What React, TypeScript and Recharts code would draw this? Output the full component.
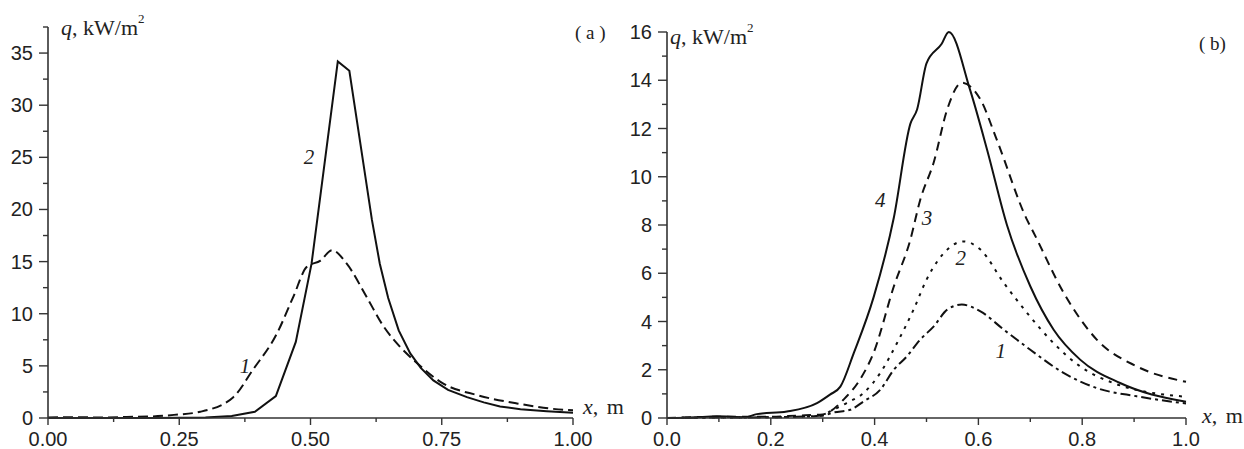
import React from "react";
import { LineChart, Line, XAxis, YAxis, ReferenceDot } from "recharts";

// ---------- Data: panel (a) ----------
const aCurve1X = [0, 0.05, 0.1, 0.15, 0.2, 0.24, 0.29, 0.353, 0.39, 0.436, 0.467, 0.493, 0.519, 0.541, 0.569, 0.607, 0.639, 0.671, 0.7, 0.753, 0.817, 0.893, 0.989, 1.0];
const aCurve1Q = [0.05, 0.08, 0.05, 0.1, 0.15, 0.3, 0.6, 2.0, 4.6, 8.1, 11.6, 14.5, 15.1, 16.1, 14.8, 11.6, 8.8, 6.8, 5.4, 3.3, 2.2, 1.4, 0.77, 0.75];
const aCurve2X = [0, 0.1, 0.2, 0.3, 0.35, 0.394, 0.434, 0.472, 0.502, 0.552, 0.574, 0.617, 0.632, 0.648, 0.668, 0.69, 0.71, 0.734, 0.762, 0.798, 0.83, 0.861, 0.9, 0.95, 1.0];
const aCurve2Q = [0, 0, 0, 0.05, 0.2, 0.6, 2.1, 7.3, 14.8, 34.2, 33.3, 19, 14.8, 11.5, 8.4, 6.2, 4.8, 3.6, 2.7, 2.0, 1.5, 1.1, 0.85, 0.65, 0.5];

const aXTicks = [0, 0.125, 0.25, 0.375, 0.5, 0.625, 0.75, 0.875, 1.0];
const aXMajor = [0, 0.25, 0.5, 0.75, 1.0];
const aYTicks = [0, 2.5, 5, 7.5, 10, 12.5, 15, 17.5, 20, 22.5, 25, 27.5, 30, 32.5, 35, 37.5];
const aYMajor = [0, 5, 10, 15, 20, 25, 30, 35];
const aLabels = [
  { name: "1", x: 0.375, q: 4.3 },
  { name: "2", x: 0.497, q: 24.4 },
];

// ---------- Data: panel (b) ----------
const bCurve1X = [0, 0.1, 0.2, 0.25, 0.3, 0.321, 0.353, 0.379, 0.411, 0.437, 0.462, 0.488, 0.514, 0.54, 0.568, 0.604, 0.649, 0.7, 0.764, 0.828, 0.905, 1.0];
const bCurve1Q = [0, 0.02, 0.03, 0.05, 0.1, 0.23, 0.34, 0.69, 1.17, 2.0, 2.55, 3.25, 3.8, 4.49, 4.7, 4.42, 3.66, 2.83, 1.87, 1.24, 0.9, 0.6];
const bCurve2X = [0, 0.1, 0.2, 0.25, 0.3, 0.314, 0.346, 0.379, 0.411, 0.443, 0.475, 0.5, 0.54, 0.571, 0.604, 0.649, 0.694, 0.745, 0.796, 0.86, 1.0];
const bCurve2Q = [0, 0.02, 0.03, 0.05, 0.1, 0.27, 0.62, 1.04, 1.87, 3.1, 4.49, 5.73, 6.98, 7.32, 6.98, 5.6, 4.35, 3.1, 2.14, 1.45, 0.88];
const bCurve3X = [0, 0.1, 0.2, 0.25, 0.3, 0.314, 0.34, 0.372, 0.398, 0.437, 0.469, 0.488, 0.514, 0.54, 0.568, 0.604, 0.636, 0.694, 0.706, 0.764, 0.828, 0.905, 1.0];
const bCurve3Q = [0, 0.05, 0.05, 0.1, 0.15, 0.27, 0.76, 1.6, 2.7, 5.45, 7.4, 9.05, 10.6, 12.8, 13.9, 13.2, 11.5, 8.2, 7.7, 5.2, 3.25, 2.14, 1.5];
const bCurve4X = [0, 0.05, 0.096, 0.15, 0.173, 0.231, 0.289, 0.314, 0.334, 0.36, 0.398, 0.437, 0.469, 0.482, 0.5, 0.529, 0.543, 0.584, 0.617, 0.655, 0.7, 0.745, 0.796, 0.873, 0.995, 1.0];
const bCurve4Q = [0, 0.02, 0.07, 0.03, 0.16, 0.27, 0.62, 0.97, 1.3, 2.7, 5.0, 8.3, 12.2, 12.8, 14.7, 15.5, 16.0, 13.6, 11.1, 8.0, 5.46, 3.66, 2.42, 1.45, 0.69, 0.67];

const bXTicks = [0, 0.1, 0.2, 0.3, 0.4, 0.5, 0.6, 0.7, 0.8, 0.9, 1.0];
const bXMajor = [0, 0.2, 0.4, 0.6, 0.8, 1.0];
const bYTicks = [0, 1, 2, 3, 4, 5, 6, 7, 8, 9, 10, 11, 12, 13, 14, 15, 16];
const bYMajor = [0, 2, 4, 6, 8, 10, 12, 14, 16];
const bLabels = [
  { name: "1", x: 0.643, q: 2.5 },
  { name: "2", x: 0.566, q: 6.35 },
  { name: "3", x: 0.501, q: 8.01 },
  { name: "4", x: 0.411, q: 8.76 },
];

const zip = (xs: number[], qs: number[]) => xs.map((x, i) => ({ x, q: qs[i] }));

const AXIS = "#333";
const LINE = "#111";
const SANS = "'Liberation Sans', Arial, sans-serif";
const SERIF = "'Liberation Serif', 'Times New Roman', serif";

const isIn = (v: number, arr: number[]) => arr.some((m) => Math.abs(m - v) < 1e-9);

const makeXTick = (majors: number[], digits: number) => (props: any) => {
  const { x, y, payload } = props;
  const major = isIn(payload.value, majors);
  return (
    <g>
      <line x1={x} x2={x} y1={y} y2={y + (major ? 7 : 4)} stroke={AXIS} strokeWidth={1.4} />
      {major && (
        <text x={x} y={y + 27.5} textAnchor="middle" fontFamily={SANS} fontSize={20} fill="#222">
          {payload.value.toFixed(digits)}
        </text>
      )}
    </g>
  );
};

const makeYTick = (majors: number[]) => (props: any) => {
  const { x, y, payload } = props;
  const major = isIn(payload.value, majors);
  return (
    <g>
      <line x1={x - (major ? 9 : 5)} x2={x} y1={y} y2={y} stroke={AXIS} strokeWidth={1.4} />
      {major && (
        <text x={x - 15} y={y + 7} textAnchor="end" fontFamily={SANS} fontSize={20} fill="#222">
          {String(payload.value)}
        </text>
      )}
    </g>
  );
};

const curveLabel = (name: string) => (p: any) => (
  <text x={p.cx} y={p.cy} textAnchor="middle" fontFamily={SERIF} fontStyle="italic" fontSize={21} fill="#222">
    {name}
  </text>
);

export default function App() {
  return (
    <div style={{ position: "absolute", left: 0, top: 0, width: 1244, height: 449, background: "#fff" }}>
      <div style={{ position: "absolute", left: 0, top: 0 }}>
        <LineChart width={620} height={449} margin={{ top: 27, right: 47, bottom: 0, left: 0 }}>
          <XAxis
            type="number"
            dataKey="x"
            domain={[0, 1]}
            ticks={aXTicks}
            interval={0}
            tickSize={0}
            tickMargin={0}
            tickLine={false}
            height={31}
            axisLine={{ stroke: AXIS, strokeWidth: 1.6 }}
            tick={makeXTick(aXMajor, 2)}
          />
          <YAxis
            type="number"
            domain={[0, 37.5]}
            ticks={aYTicks}
            interval={0}
            tickSize={0}
            tickMargin={0}
            tickLine={false}
            width={48}
            axisLine={{ stroke: AXIS, strokeWidth: 1.6 }}
            tick={makeYTick(aYMajor)}
          />
          <Line data={zip(aCurve1X, aCurve1Q)} dataKey="q" type="monotone" stroke={LINE} strokeWidth={2} strokeDasharray="10 5" dot={false} isAnimationActive={false} />
          <Line data={zip(aCurve2X, aCurve2Q)} dataKey="q" type="linear" stroke={LINE} strokeWidth={2} dot={false} isAnimationActive={false} />
          {aLabels.map((l) => (
            <ReferenceDot key={l.name} x={l.x} y={l.q} r={0} shape={curveLabel(l.name)} />
          ))}
        </LineChart>
      </div>
      <div style={{ position: "absolute", left: 620, top: 0 }}>
        <LineChart width={624} height={449} margin={{ top: 32, right: 58, bottom: 0, left: 0 }}>
          <XAxis
            type="number"
            dataKey="x"
            domain={[0, 1]}
            ticks={bXTicks}
            interval={0}
            tickSize={0}
            tickMargin={0}
            tickLine={false}
            height={31}
            axisLine={{ stroke: AXIS, strokeWidth: 1.6 }}
            tick={makeXTick(bXMajor, 1)}
          />
          <YAxis
            type="number"
            domain={[0, 16]}
            ticks={bYTicks}
            interval={0}
            tickSize={0}
            tickMargin={0}
            tickLine={false}
            width={47}
            axisLine={{ stroke: AXIS, strokeWidth: 1.6 }}
            tick={makeYTick(bYMajor)}
          />
          <Line data={zip(bCurve1X, bCurve1Q)} dataKey="q" type="monotone" stroke={LINE} strokeWidth={2} strokeDasharray="10 4 3 4" dot={false} isAnimationActive={false} />
          <Line data={zip(bCurve2X, bCurve2Q)} dataKey="q" type="monotone" stroke={LINE} strokeWidth={2} strokeDasharray="3 6" dot={false} isAnimationActive={false} />
          <Line data={zip(bCurve3X, bCurve3Q)} dataKey="q" type="monotone" stroke={LINE} strokeWidth={2} strokeDasharray="9 6" dot={false} isAnimationActive={false} />
          <Line data={zip(bCurve4X, bCurve4Q)} dataKey="q" type="monotone" stroke={LINE} strokeWidth={2} dot={false} isAnimationActive={false} />
          {bLabels.map((l) => (
            <ReferenceDot key={l.name} x={l.x} y={l.q} r={0} shape={curveLabel(l.name)} />
          ))}
        </LineChart>
      </div>
      <svg width={1244} height={449} style={{ position: "absolute", left: 0, top: 0, pointerEvents: "none" }}>
        <text x={61} y={35} fontFamily={SERIF} fontSize={22} fill="#222">
          <tspan fontStyle="italic">q</tspan>
          <tspan>, kW/m</tspan>
          <tspan fontSize={13} dy={-12}>2</tspan>
        </text>
        <text x={670} y={44} fontFamily={SERIF} fontSize={22} fill="#222">
          <tspan fontStyle="italic">q</tspan>
          <tspan>, kW/m</tspan>
          <tspan fontSize={13} dy={-12}>2</tspan>
        </text>
        <text x={583} y={414} fontFamily={SERIF} fontSize={22} fill="#222" wordSpacing={3}>
          <tspan fontStyle="italic">x</tspan>
          <tspan>, m</tspan>
        </text>
        <text x={1202} y={423} fontFamily={SERIF} fontSize={22} fill="#222" wordSpacing={3}>
          <tspan fontStyle="italic">x</tspan>
          <tspan>, m</tspan>
        </text>
        <text x={575} y={39} fontFamily={SERIF} fontSize={19} fill="#222">( a )</text>
        <text x={1199} y={50} fontFamily={SERIF} fontSize={19} fill="#222">( b)</text>
      </svg>
    </div>
  );
}
